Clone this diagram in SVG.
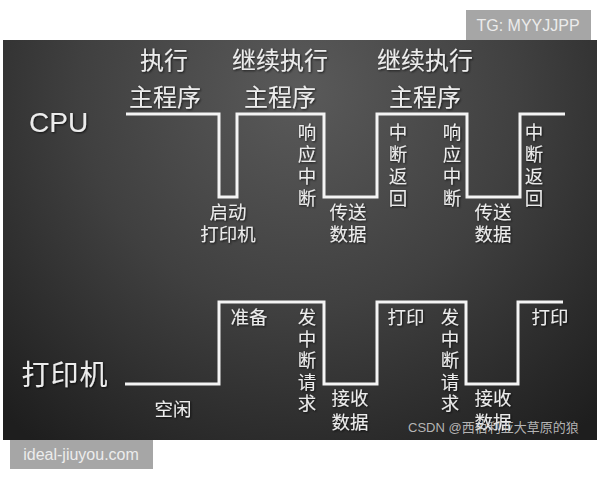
<svg xmlns="http://www.w3.org/2000/svg" width="600" height="480" viewBox="0 0 600 480">
<defs>
<radialGradient id="bg" cx="300" cy="90" r="440" gradientUnits="userSpaceOnUse">
<stop offset="0" stop-color="#5a5a5a"/>
<stop offset="0.5" stop-color="#404040"/>
<stop offset="1" stop-color="#1e1e1e"/>
</radialGradient>
<filter id="sh" x="-20%" y="-20%" width="140%" height="140%">
<feDropShadow dx="1" dy="1" stdDeviation="0.8" flood-color="#000" flood-opacity="0.7"/>
</filter>
</defs>
<style>
.t{font-family:"Noto Sans CJK SC","Noto Sans",sans-serif;fill:#ececec;text-anchor:middle}
.big{font-size:24px}
.sm{font-size:18.5px}
.lat{font-family:"Liberation Sans",Arial,sans-serif;fill:#ececec}
.wave{fill:none;stroke:#f4f4f4;stroke-width:3;stroke-linejoin:miter}
</style>
<rect width="600" height="480" fill="#ffffff"/>
<rect x="3" y="40" width="594" height="400" fill="url(#bg)"/>
<g id="badge-tg">
<rect x="466" y="10" width="125" height="30" fill="#a6a6a6"/>
<text class="lat" x="528" y="31" font-size="16" text-anchor="middle" fill="#ffffff">TG: MYYJJPP</text>
</g>
<g id="connectors">
<path class="wave" d="M126,114 H219 V197 H237 V114 H324 V197 H377 V114 H467 V197 H520 V114 H565"/>
<path class="wave" d="M125,384 H219 V302 H324 V384 H377 V302 H466 V384 H518 V302 H563"/>
</g>
<g filter="url(#sh)">
<g id="cpu-label"><text class="lat" x="29" y="132" font-size="28">CPU</text></g>
<g id="exec-main"><text class="t big" x="164" y="69">执行</text><text class="t big" x="165" y="106">主程序</text></g>
<g id="continue-1"><text class="t big" x="280" y="69">继续执行</text><text class="t big" x="280" y="106">主程序</text></g>
<g id="continue-2"><text class="t big" x="425" y="69">继续执行</text><text class="t big" x="425" y="106">主程序</text></g>
<g id="start-printer"><text class="t sm" x="228" y="219">启动</text><text class="t sm" x="228" y="241">打印机</text></g>
<g id="respond-1"><text class="t sm" x="307" y="139">响<tspan x="307" dy="22">应</tspan><tspan x="307" dy="22">中</tspan><tspan x="307" dy="22">断</tspan></text></g>
<g id="send-1"><text class="t sm" x="348" y="219">传送</text><text class="t sm" x="348" y="241">数据</text></g>
<g id="return-1"><text class="t sm" x="398" y="139">中<tspan x="398" dy="22">断</tspan><tspan x="398" dy="22">返</tspan><tspan x="398" dy="22">回</tspan></text></g>
<g id="respond-2"><text class="t sm" x="452" y="139">响<tspan x="452" dy="22">应</tspan><tspan x="452" dy="22">中</tspan><tspan x="452" dy="22">断</tspan></text></g>
<g id="send-2"><text class="t sm" x="493" y="219">传送</text><text class="t sm" x="493" y="241">数据</text></g>
<g id="return-2"><text class="t sm" x="534" y="139">中<tspan x="534" dy="22">断</tspan><tspan x="534" dy="22">返</tspan><tspan x="534" dy="22">回</tspan></text></g>
<g id="printer-label"><text class="t" x="65" y="385" font-size="28" letter-spacing="1">打印机</text></g>
<g id="idle"><text class="t sm" x="173" y="416">空闲</text></g>
<g id="prepare"><text class="t sm" x="249" y="324">准备</text></g>
<g id="irq-1"><text class="t sm" x="307" y="324">发<tspan x="307" dy="21.5">中</tspan><tspan x="307" dy="21.5">断</tspan><tspan x="307" dy="21.5">请</tspan><tspan x="307" dy="21.5">求</tspan></text></g>
<g id="recv-1"><text class="t sm" x="350" y="405">接收</text><text class="t sm" x="350" y="429">数据</text></g>
<g id="print-1"><text class="t sm" x="406" y="324">打印</text></g>
<g id="irq-2"><text class="t sm" x="450" y="324">发<tspan x="450" dy="21.5">中</tspan><tspan x="450" dy="21.5">断</tspan><tspan x="450" dy="21.5">请</tspan><tspan x="450" dy="21.5">求</tspan></text></g>
<g id="recv-2"><text class="t sm" x="493" y="405">接收</text><text class="t sm" x="493" y="429">数据</text></g>
<g id="print-2"><text class="t sm" x="550" y="324">打印</text></g>
</g>
<g id="csdn-mark"><text x="408" y="432" font-family="'Liberation Sans','Noto Sans CJK SC',sans-serif" font-size="13" fill="#d0d0d0" fill-opacity="0.85">CSDN @西伯利亚大草原的狼</text></g>
<g id="badge-site">
<rect x="10" y="440" width="143" height="29" fill="#a6a6a6"/>
<text class="lat" x="81" y="460" font-size="16" text-anchor="middle" fill="#ffffff">ideal-jiuyou.com</text>
</g>
</svg>
